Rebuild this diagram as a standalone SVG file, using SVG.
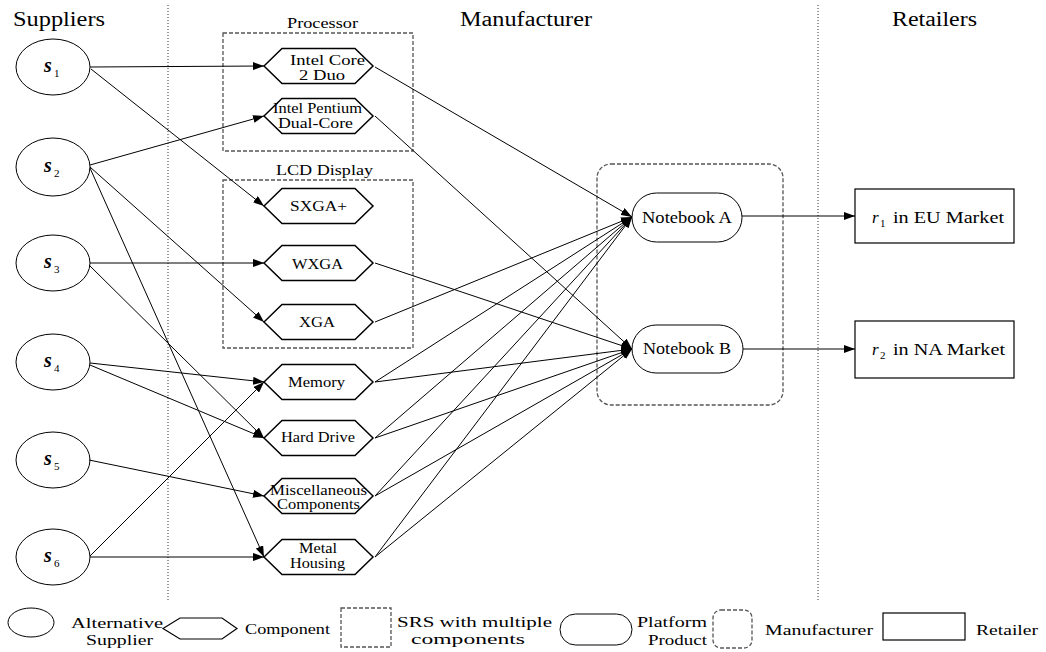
<svg xmlns="http://www.w3.org/2000/svg" width="1046" height="652" viewBox="0 0 1046 652" font-family="'Liberation Serif', 'DejaVu Serif', serif">
<style>
text{font-family:'Liberation Serif','DejaVu Serif',serif;fill:#000}
.hdr{font-size:20px}
.lbl{font-size:14px}
.grp{font-size:14.5px}
.leg{font-size:15px}
.nb{font-size:17px}
.sv{font-size:20px;font-style:italic;font-weight:bold}
.sub{font-size:11px}
.ell{fill:#fff;stroke:#000;stroke-width:1}
.hex{fill:#fff;stroke:#000;stroke-width:1.5}
.box{fill:none;stroke:#555;stroke-width:1.3;stroke-dasharray:4 2}
.dot{stroke:#333;stroke-width:1;stroke-dasharray:1 2}
.con line{stroke:#000;stroke-width:1}
.ret{fill:#fff;stroke:#000;stroke-width:1.2}
</style>
<defs>
<marker id="ah" markerWidth="11" markerHeight="8" refX="11" refY="4" orient="auto" markerUnits="userSpaceOnUse">
<path d="M0,0 L11,4 L0,8 z" fill="#000"/>
</marker>
</defs>
<rect width="1046" height="652" fill="#fff"/>

<!-- separators and headers -->
<line class="dot" x1="168" y1="5" x2="168" y2="600"/>
<line class="dot" x1="818" y1="5" x2="818" y2="600"/>
<text class="hdr" x="13" y="26" textLength="92" lengthAdjust="spacingAndGlyphs">Suppliers</text>
<text class="hdr" x="460" y="26" textLength="132" lengthAdjust="spacingAndGlyphs">Manufacturer</text>
<text class="hdr" x="892" y="26" textLength="85" lengthAdjust="spacingAndGlyphs">Retailers</text>

<!-- groups -->
<g id="processor-group">
<rect class="box" x="223" y="33" width="190" height="118"/>
<text class="grp" x="287" y="28" textLength="71" lengthAdjust="spacingAndGlyphs">Processor</text>
</g>
<g id="lcd-group">
<rect class="box" x="223" y="180" width="190" height="168"/>
<text class="grp" x="276" y="175" textLength="97" lengthAdjust="spacingAndGlyphs">LCD Display</text>
</g>
<g id="manufacturer-group">
<rect class="box" x="597" y="164" width="186" height="241" rx="14"/>
</g>

<!-- suppliers -->
<g id="s1"><ellipse class="ell" cx="53" cy="67" rx="37" ry="28"/><text class="sv" x="44" y="72">s</text><text class="sub" x="54" y="77">1</text></g>
<g id="s2"><ellipse class="ell" cx="53" cy="167" rx="37" ry="29"/><text class="sv" x="44" y="172">s</text><text class="sub" x="54" y="177">2</text></g>
<g id="s3"><ellipse class="ell" cx="53" cy="263" rx="37" ry="28"/><text class="sv" x="44" y="268">s</text><text class="sub" x="54" y="273">3</text></g>
<g id="s4"><ellipse class="ell" cx="53" cy="362" rx="37" ry="28"/><text class="sv" x="44" y="367">s</text><text class="sub" x="54" y="372">4</text></g>
<g id="s5"><ellipse class="ell" cx="53" cy="460" rx="37" ry="28"/><text class="sv" x="44" y="465">s</text><text class="sub" x="54" y="470">5</text></g>
<g id="s6"><ellipse class="ell" cx="53" cy="557" rx="37" ry="28"/><text class="sv" x="44" y="562">s</text><text class="sub" x="54" y="567">6</text></g>

<!-- components -->
<g id="intel-core-2-duo"><polygon class="hex" points="264,66 282,48.5 355,48.5 373,66 355,83.5 282,83.5"/>
<text class="lbl" x="290" y="65" textLength="75" lengthAdjust="spacingAndGlyphs">Intel Core</text>
<text class="lbl" x="299" y="80" textLength="46" lengthAdjust="spacingAndGlyphs">2 Duo</text></g>
<g id="intel-pentium"><polygon class="hex" points="264,116 282,98.5 355,98.5 373,116 355,133.5 282,133.5"/>
<text class="lbl" x="273" y="113" textLength="89" lengthAdjust="spacingAndGlyphs">Intel Pentium</text>
<text class="lbl" x="278" y="128" textLength="75" lengthAdjust="spacingAndGlyphs">Dual-Core</text></g>
<g id="sxga"><polygon class="hex" points="264,206 282,188.5 355,188.5 373,206 355,223.5 282,223.5"/>
<text class="lbl" x="290" y="211" textLength="57" lengthAdjust="spacingAndGlyphs">SXGA+</text></g>
<g id="wxga"><polygon class="hex" points="264,263 282,245.5 355,245.5 373,263 355,280.5 282,280.5"/>
<text class="lbl" x="292" y="269" textLength="51" lengthAdjust="spacingAndGlyphs">WXGA</text></g>
<g id="xga"><polygon class="hex" points="264,322 282,304.5 355,304.5 373,322 355,339.5 282,339.5"/>
<text class="lbl" x="299" y="327" textLength="36" lengthAdjust="spacingAndGlyphs">XGA</text></g>
<g id="memory"><polygon class="hex" points="264,382 282,364.5 355,364.5 373,382 355,399.5 282,399.5"/>
<text class="lbl" x="288" y="387" textLength="57" lengthAdjust="spacingAndGlyphs">Memory</text></g>
<g id="hard-drive"><polygon class="hex" points="264,438 282,420.5 355,420.5 373,438 355,455.5 282,455.5"/>
<text class="lbl" x="281" y="442" textLength="74" lengthAdjust="spacingAndGlyphs">Hard Drive</text></g>
<g id="misc"><polygon class="hex" points="264,496 282,478.5 355,478.5 373,496 355,513.5 282,513.5"/>
<text class="lbl" x="270" y="495" textLength="97" lengthAdjust="spacingAndGlyphs">Miscellaneous</text>
<text class="lbl" x="277" y="509" textLength="83" lengthAdjust="spacingAndGlyphs">Components</text></g>
<g id="metal-housing"><polygon class="hex" points="264,557 282,539.5 355,539.5 373,557 355,574.5 282,574.5"/>
<text class="lbl" x="299" y="553" textLength="38" lengthAdjust="spacingAndGlyphs">Metal</text>
<text class="lbl" x="290" y="568" textLength="55" lengthAdjust="spacingAndGlyphs">Housing</text></g>

<!-- platform products -->
<g id="notebook-a"><rect class="ell" x="632" y="193" width="110" height="49" rx="24.5"/>
<text class="nb" x="642" y="223" textLength="90" lengthAdjust="spacingAndGlyphs">Notebook A</text></g>
<g id="notebook-b"><rect class="ell" x="632" y="325" width="111" height="48" rx="24"/>
<text class="nb" x="643" y="354" textLength="88" lengthAdjust="spacingAndGlyphs">Notebook B</text></g>

<!-- retailers -->
<g id="r1"><rect class="ret" x="855" y="189" width="159" height="54"/>
<text class="nb" x="872" y="223" font-style="italic">r</text><text class="sub" x="880" y="227">1</text>
<text class="nb" x="893" y="223" textLength="111" lengthAdjust="spacingAndGlyphs">in EU Market</text></g>
<g id="r2"><rect class="ret" x="855" y="321" width="159" height="57"/>
<text class="nb" x="872" y="355" font-style="italic">r</text><text class="sub" x="880" y="359">2</text>
<text class="nb" x="893" y="355" textLength="112" lengthAdjust="spacingAndGlyphs">in NA Market</text></g>

<!-- connectors -->
<g id="connectors" class="con" marker-end="url(#ah)">
<line x1="90" y1="67" x2="264" y2="66"/>
<line x1="91" y1="69" x2="264" y2="206"/>
<line x1="90" y1="165" x2="264" y2="116"/>
<line x1="90" y1="167" x2="264" y2="322"/>
<line x1="90" y1="168" x2="264" y2="557"/>
<line x1="90" y1="263" x2="264" y2="263"/>
<line x1="89" y1="265" x2="264" y2="438"/>
<line x1="90" y1="363" x2="264" y2="382"/>
<line x1="90" y1="365" x2="264" y2="438"/>
<line x1="89" y1="460" x2="264" y2="496"/>
<line x1="90" y1="556" x2="264" y2="382"/>
<line x1="90" y1="557" x2="264" y2="557"/>
<line x1="375" y1="67" x2="632" y2="217"/>
<line x1="375" y1="116" x2="632" y2="349"/>
<line x1="375" y1="263" x2="632" y2="349"/>
<line x1="375" y1="322" x2="632" y2="217"/>
<line x1="375" y1="382" x2="632" y2="217"/>
<line x1="375" y1="382" x2="632" y2="349"/>
<line x1="375" y1="438" x2="632" y2="217"/>
<line x1="375" y1="438" x2="632" y2="349"/>
<line x1="375" y1="496" x2="632" y2="217"/>
<line x1="375" y1="496" x2="632" y2="349"/>
<line x1="375" y1="557" x2="632" y2="217"/>
<line x1="375" y1="557" x2="632" y2="349"/>
<line x1="742" y1="216" x2="855" y2="216"/>
<line x1="743" y1="349" x2="855" y2="349"/>
</g>

<!-- legend -->
<g id="legend">
<ellipse class="ell" cx="31" cy="622.5" rx="23" ry="14.5"/>
<text class="leg" x="71" y="628" textLength="92" lengthAdjust="spacingAndGlyphs">Alternative</text>
<text class="leg" x="86" y="645" textLength="67" lengthAdjust="spacingAndGlyphs">Supplier</text>
<polygon class="hex" style="stroke-width:1.2" points="163,628.5 180,618 222,618 237,628.5 222,639 180,639"/>
<text class="leg" x="245" y="634" textLength="85" lengthAdjust="spacingAndGlyphs">Component</text>
<rect class="box" x="341" y="608" width="50" height="39"/>
<text class="leg" x="397" y="627" textLength="155" lengthAdjust="spacingAndGlyphs">SRS with multiple</text>
<text class="leg" x="411" y="644" textLength="114" lengthAdjust="spacingAndGlyphs">components</text>
<rect class="ell" x="560" y="614" width="72" height="31" rx="15.5"/>
<text class="leg" x="637" y="627" textLength="70" lengthAdjust="spacingAndGlyphs">Platform</text>
<text class="leg" x="648" y="645" textLength="59" lengthAdjust="spacingAndGlyphs">Product</text>
<rect class="box" x="713" y="610" width="39" height="38" rx="8"/>
<text class="leg" x="765" y="635" textLength="108" lengthAdjust="spacingAndGlyphs">Manufacturer</text>
<rect class="ret" x="883" y="613" width="82" height="27"/>
<text class="leg" x="976" y="635" textLength="62" lengthAdjust="spacingAndGlyphs">Retailer</text>
</g>
</svg>
